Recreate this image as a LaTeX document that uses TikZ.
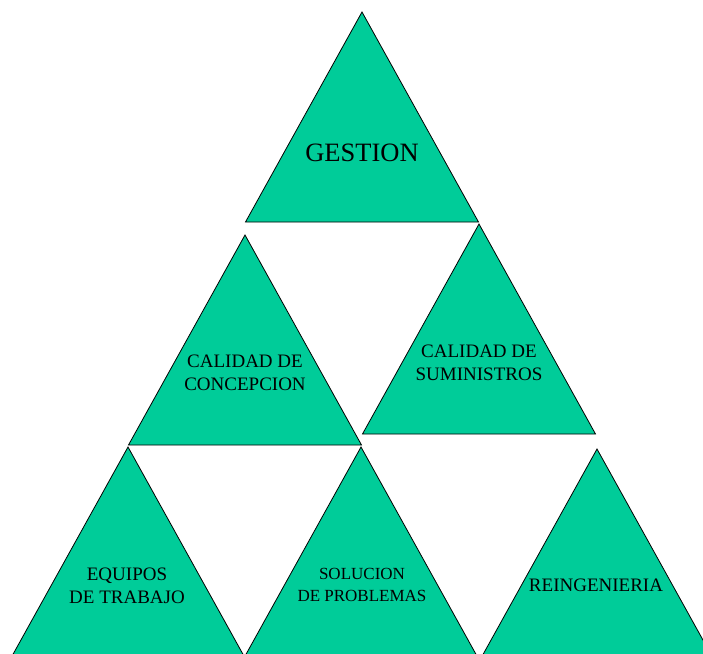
\documentclass[tikz,border=0pt]{standalone}
\usepackage{fontspec}
\setmainfont{Liberation Serif}
\definecolor{tri}{HTML}{00CC99}
\begin{document}
\begin{tikzpicture}[x=1pt,y=-1pt,
  tribox/.style={fill=tri,draw=black,line width=0.8pt,line join=miter},
  lbl/.style={align=center,inner sep=0pt,text=black}]
\clip (0,0) rectangle (703,653);
\fill[white] (0,0) rectangle (703,653);
% triangles: apex and half width 116.5, height 210
\draw[tribox] (362,12) -- (478.5,222) -- (245.5,222) -- cycle;
\draw[tribox] (245,235) -- (361.5,445) -- (128.5,445) -- cycle;
\draw[tribox] (479,224) -- (595.5,434) -- (362.5,434) -- cycle;
\draw[tribox] (128,447) -- (244.5,657) -- (11.5,657) -- cycle;
\draw[tribox] (361,447) -- (477.5,657) -- (244.5,657) -- cycle;
\draw[tribox] (597,449) -- (713.5,659) -- (480.5,659) -- cycle;
% labels
\node[lbl,font=\fontsize{26.5}{30}\selectfont] (gestion) at (362,153) {GESTION};
\node[lbl,font=\fontsize{19}{23.5}\selectfont] (concepcion) at (245,373) {CALIDAD DE\\CONCEPCION};
\node[lbl,font=\fontsize{19}{23.5}\selectfont] (suministros) at (479,363) {CALIDAD DE\\SUMINISTROS};
\node[lbl,font=\fontsize{19}{23}\selectfont] (equipos) at (127,586) {EQUIPOS\\DE TRABAJO};
\node[lbl,font=\fontsize{17}{22}\selectfont] (solucion) at (362,585) {SOLUCION\\DE PROBLEMAS};
\node[lbl,font=\fontsize{19}{23}\selectfont] (reingenieria) at (596,585) {REINGENIERIA};
\end{tikzpicture}
\end{document}
